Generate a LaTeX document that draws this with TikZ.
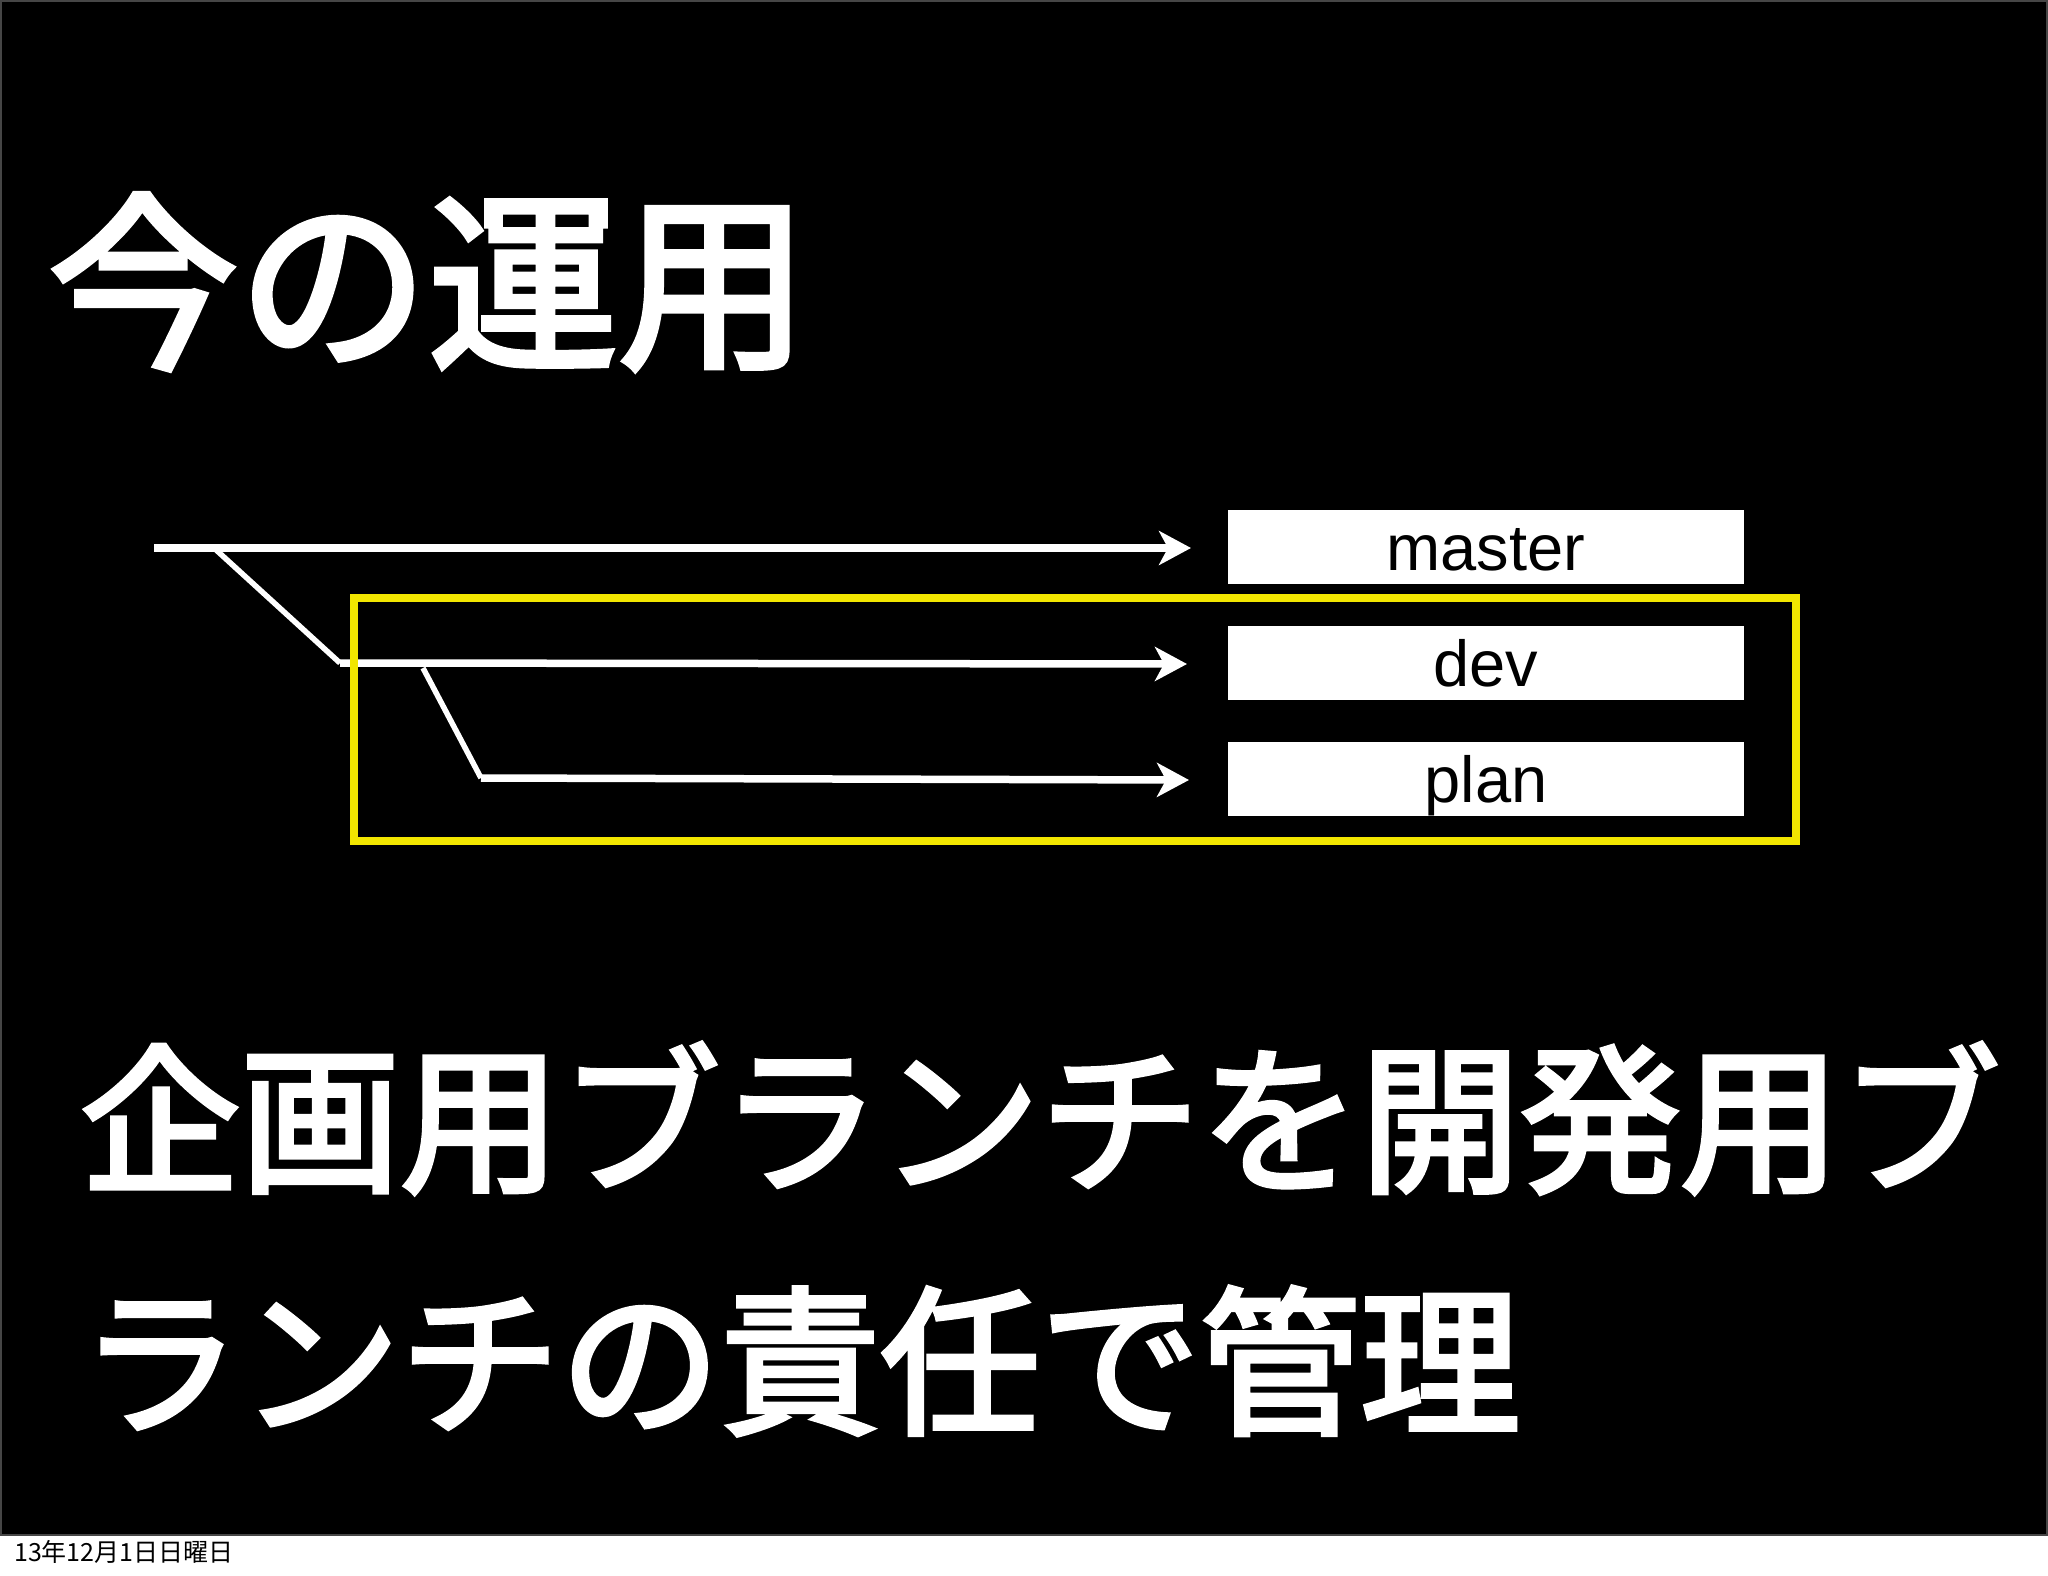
\documentclass[tikz,border=0pt]{standalone}
\usepackage{fontspec}
\setmainfont{Noto Sans CJK JP}
\newfontfamily\slideheavy{Noto Sans CJK JP}[FakeBold=3]
\newfontfamily\boxfont{Liberation Sans}
\usetikzlibrary{arrows.meta}
\definecolor{slideyellow}{RGB}{242,230,0}
\definecolor{slideedge}{RGB}{70,70,70}
\begin{document}
\begin{tikzpicture}[x=1pt,y=-1pt,
  branchline/.style={draw=white, line width=5.5pt},
  arr/.style={-{Stealth[length=32pt,width=34pt,inset=9pt]}, draw=white, fill=white, line width=7.5pt},
  labelbox/.style={fill=white, text=black, minimum width=516pt, inner sep=0pt,
    text height=60pt, text depth=14pt, font=\boxfont\fontsize{65}{65}\selectfont},
  bigtext/.style={anchor=base west, inner sep=0pt, text=white},
]
\useasboundingbox (0,0) rectangle (2048,1576);
\fill[white] (0,0) rectangle (2048,1576);
\draw[fill=black, draw=slideedge, line width=2pt] (1,1) rectangle (2047,1535);

% title
\node[bigtext, font=\slideheavy\fontsize{190}{190}\selectfont] (title) at (48,354) {今の運用};

% branch coordinates
\coordinate (m0) at (154,548);
\coordinate (m1) at (1191,548);
\coordinate (b1) at (214,548);
\coordinate (d0) at (340,663);
\coordinate (d1) at (1187,664);
\coordinate (b2) at (423,668);
\coordinate (p0) at (481,778);
\coordinate (p1) at (1189,780);

\draw[arr] (m0) -- (m1);
\draw[branchline] (b1) -- (d0);
\draw[arr] (d0) -- (d1);
\draw[branchline] (b2) -- (p0);
\draw[arr] (p0) -- (p1);

% yellow group frame
\node[draw=slideyellow, line width=8pt, minimum width=1442pt, minimum height=243pt, inner sep=0pt] (grp) at (1075,719.5) {};

% labels
\node[labelbox] (master) at (1486,547) {master};
\node[labelbox] (dev) at (1486,663) {dev};
\node[labelbox] (plan) at (1486,779) {plan};

% bottom text
\node[bigtext, font=\slideheavy\fontsize{160}{160}\selectfont] (line1) at (80,1180) {企画用ブランチを開発用ブ};
\node[bigtext, font=\slideheavy\fontsize{160}{160}\selectfont] (line2) at (80,1422) {ランチの責任で管理};

% date footer
\node[anchor=base west, inner sep=0pt, text=black, font=\fontsize{25}{25}\selectfont] (date) at (14,1561) {13年12月1日日曜日};
\end{tikzpicture}
\end{document}
